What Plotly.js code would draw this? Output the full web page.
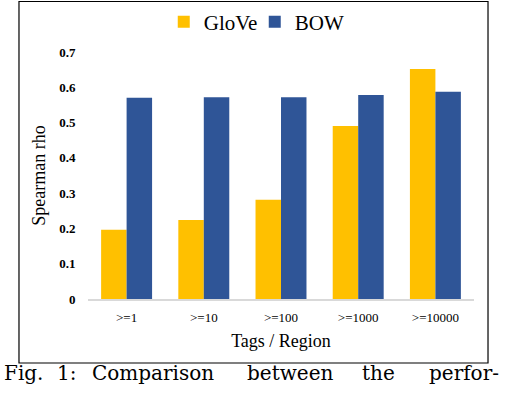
<!DOCTYPE html>
<html>
<head>
<meta charset="utf-8">
<script src="https://cdn.plot.ly/plotly-3.0.1.min.js"></script>
<style>html,body{margin:0;padding:0;background:#fff;}#chart{width:508px;height:396px;}</style>
</head>
<body>
<div id="chart"></div>
<script>
const categories = [">=1", ">=10", ">=100", ">=1000", ">=10000"];
const gloveValues = [0.196, 0.224, 0.281, 0.490, 0.652];
const bowValues = [0.570, 0.572, 0.572, 0.578, 0.587];
const seriesNames = ["GloVe", "BOW"];
const yTickValues = [0, 0.1, 0.2, 0.3, 0.4, 0.5, 0.6, 0.7];
const yTickLabels = ["0", "0.1", "0.2", "0.3", "0.4", "0.5", "0.6", "0.7"];
const xTitle = "Tags / Region";
const yTitle = "Spearman rho";
const captionWords = ["Fig.", "1:", "Comparison", "between", "the", "perfor-"];

const captionX = [-0.2228, -0.0855, 0.0052, 0.4067, 0.7047, 0.8782];
const serif = "Liberation Serif, Times New Roman, serif";

const traces = [
  {type: "bar", name: seriesNames[0], x: categories, y: gloveValues, marker: {color: "#FFC000"}},
  {type: "bar", name: seriesNames[1], x: categories, y: bowValues, marker: {color: "#2F5597"}}
];

const annotations = captionWords.map((w, i) => ({
  text: w, xref: "paper", yref: "paper", x: captionX[i], y: -0.2996,
  xanchor: "left", yanchor: "middle", showarrow: false,
  font: {family: "DejaVu Serif, serif", size: 20, color: "#000"}
}));

const layout = {
  width: 508, height: 396,
  margin: {l: 88, r: 34, t: 52, b: 97, autoexpand: false},
  paper_bgcolor: "#fff", plot_bgcolor: "#fff",
  barmode: "group", bargap: 0.34, bargroupgap: 0,
  showlegend: true,
  legend: {orientation: "h", x: 0.432, xanchor: "center", y: 1.121, yanchor: "middle",
           entrywidth: 46, entrywidthmode: "pixels",
           font: {family: serif, size: 21, color: "#000"}, bgcolor: "rgba(0,0,0,0)"},
  xaxis: {
    showgrid: false, zeroline: false, showline: true, linecolor: "#d9d9d9", linewidth: 1.5,
    ticks: "outside", ticklen: 6, tickcolor: "rgba(0,0,0,0)",
    tickfont: {family: serif, size: 13, color: "#000"},
    title: {text: xTitle, font: {family: serif, size: 18, color: "#000"}, standoff: 10}
  },
  yaxis: {
    range: [0, 0.7], showgrid: false, zeroline: false, showline: false,
    tickvals: yTickValues, ticktext: yTickLabels.map(t => "<b>" + t + "</b>"),
    ticks: "outside", ticklen: 9, tickcolor: "rgba(0,0,0,0)",
    tickfont: {family: serif, size: 13, color: "#000"},
    title: {text: yTitle, font: {family: serif, size: 18, color: "#000"}, standoff: 8}
  },
  shapes: [{type: "rect", xref: "paper", yref: "paper", x0: -0.1788, x1: 1.0363, y0: -0.2591, y1: 1.2045,
            line: {color: "#000", width: 1.2}, fillcolor: "rgba(0,0,0,0)"}],
  annotations: annotations
};

Plotly.newPlot("chart", traces, layout, {displayModeBar: false, staticPlot: true});
</script>
</body>
</html>
